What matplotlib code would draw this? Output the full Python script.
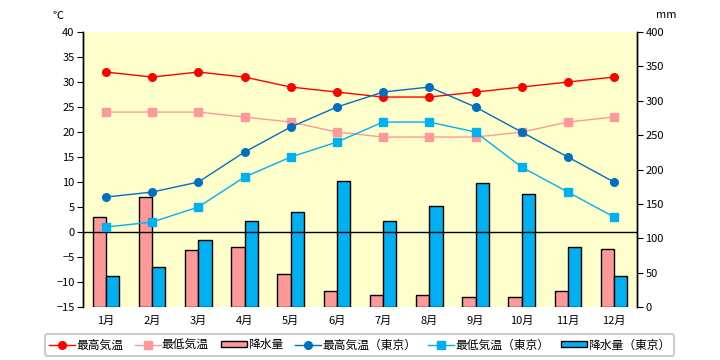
import matplotlib
matplotlib.use("Agg")
import matplotlib.pyplot as plt
import numpy as np

plt.rcParams['font.family'] = ['Noto Sans CJK JP', 'DejaVu Sans']

months = ['1月', '2月', '3月', '4月', '5月', '6月', '7月', '8月', '9月', '10月', '11月', '12月']
max_temp = [32, 31, 32, 31, 29, 28, 27, 27, 28, 29, 30, 31]
min_temp = [24, 24, 24, 23, 22, 20, 19, 19, 19, 20, 22, 23]
rain = [131, 160, 83, 87, 48, 23, 17, 18, 15, 14, 23, 84]
max_tokyo = [7, 8, 10, 16, 21, 25, 28, 29, 25, 20, 15, 10]
min_tokyo = [1, 2, 5, 11, 15, 18, 22, 22, 20, 13, 8, 3]
rain_tokyo = [45, 59, 98, 125, 138, 184, 125, 147, 180, 164, 88, 45]

x = np.arange(len(months))

fig = plt.figure(figsize=(7.2, 3.6), dpi=100)
ax2 = fig.add_axes([0.115, 0.147, 0.77, 0.764])
ax = ax2.twinx()
# temperature axis on the left and drawn above the bars
ax.yaxis.tick_left()
ax2.yaxis.tick_right()
ax.set_zorder(ax2.get_zorder() + 1)
ax.patch.set_visible(False)
ax2.set_facecolor('#FFFFCC')

w = 0.29
b1 = ax2.bar(x - w / 2, rain, w, color='#FF9999', edgecolor='black', linewidth=1)
b2 = ax2.bar(x + w / 2, rain_tokyo, w, color='#00B0F0', edgecolor='black', linewidth=1)
ax2.set_ylim(0, 400)
ax2.set_yticks(range(0, 401, 50))

ax.axhline(0, color='black', linewidth=1)
ms = 5.5
l1, = ax.plot(x, max_temp, color='#FF0000', marker='o', markersize=ms, linewidth=1)
l2, = ax.plot(x, min_temp, color='#FF9999', marker='s', markersize=ms, linewidth=1)
l3, = ax.plot(x, max_tokyo, color='#0070C0', marker='o', markersize=ms, linewidth=1)
l4, = ax.plot(x, min_tokyo, color='#00B0F0', marker='s', markersize=ms, linewidth=1)
ax.set_ylim(-15, 40)
ax.set_yticks(range(-15, 41, 5))
ax.set_xlim(-0.5, 11.5)
ax2.set_xlim(-0.5, 11.5)
ax2.set_xticks(x)
ax2.set_xticklabels(months)

for a in (ax, ax2):
    a.spines['top'].set_visible(False)
    a.spines['bottom'].set_visible(False)
    a.spines['left'].set_linewidth(1)
    a.spines['right'].set_linewidth(1)
ax.tick_params(axis='y', length=4, labelsize=8, pad=2)
ax2.tick_params(axis='y', length=4, labelsize=8, pad=2)
ax2.tick_params(axis='x', length=0, labelsize=8, pad=6)

fig.text(0.08, 0.955, '℃', fontsize=8, ha='center', va='center')
fig.text(0.925, 0.958, 'mm', fontsize=8, ha='center', va='center')

handles = [l1, l2, b1, l3, l4, b2]
labels = ['最高気温', '最低気温', '降水量', '最高気温（東京）', '最低気温（東京）', '降水量（東京）']
leg = fig.legend(handles, labels, loc='center', bbox_to_anchor=(0.4993, 0.042), ncol=6,
                 fontsize=8.5, frameon=True, fancybox=True, handlelength=2.2, handleheight=0.45,
                 handletextpad=0.1, columnspacing=1.0, borderpad=0.35)
leg.get_frame().set_edgecolor('#C0C0C0')
leg.get_frame().set_linewidth(1.5)

fig.savefig('out.png', dpi=100)
